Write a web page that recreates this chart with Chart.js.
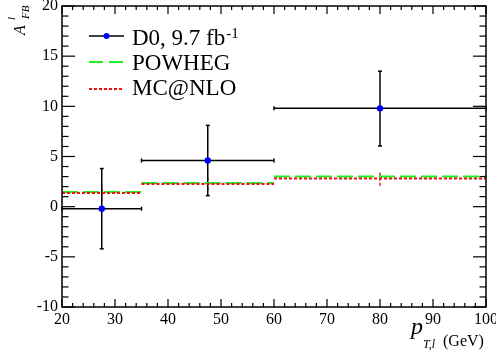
<!doctype html>
<html>
<head>
<meta charset="utf-8">
<script src="https://cdn.jsdelivr.net/npm/chart.js@4.4.1/dist/chart.umd.min.js"></script>
<style>
  body { margin: 0; background: #fff; }
  canvas { display: block; }
</style>
</head>
<body>
<canvas id="c" width="496" height="354"></canvas>
<script>
// bins in pT (GeV)
var binLo = [20, 35, 60];
var binHi = [35, 60, 100];
var binCenter = [27.5, 47.5, 80];

// D0 data
var d0Val = [-0.2, 4.6, 9.8];
var d0ErrUp = [4.0, 3.5, 3.7];
var d0ErrDown = [4.0, 3.5, 3.75];

// predictions
var powhegVal = [1.47, 2.37, 3.0];
var powhegErr = [0.15, 0.15, 0.15];
var mcnloVal = [1.37, 2.27, 2.8];
var mcnloErr = [0.8, 0.63, 0.72];

var xTicks = [20, 30, 40, 50, 60, 70, 80, 90, 100];
var yTicks = [-10, -5, 0, 5, 10, 15, 20];

var SERIF = "'Liberation Serif', 'DejaVu Serif', serif";

function steps(vals) {
    var out = [];
    for (var i = 0; i < vals.length; i++) {
        out.push({x: binLo[i], y: vals[i]});
        out.push({x: binHi[i], y: vals[i]});
        out.push({x: binHi[i], y: null});
    }
    return out;
}

function line(ctx, x1, y1, x2, y2) {
    ctx.beginPath();
    ctx.moveTo(x1, y1);
    ctx.lineTo(x2, y2);
    ctx.stroke();
}

var rootStyle = {
    id: 'rootStyle',
    beforeDatasetsDraw: function(chart) {
        var ctx = chart.ctx, xs = chart.scales.x, ys = chart.scales.y;
        ctx.save();
        // prediction error bars
        ctx.lineWidth = 1.5;
        ctx.strokeStyle = '#22ee22';
        for (var i = 0; i < binCenter.length; i++) {
            var px = xs.getPixelForValue(binCenter[i]);
            line(ctx, px, ys.getPixelForValue(powhegVal[i] - powhegErr[i]), px, ys.getPixelForValue(powhegVal[i] + powhegErr[i]));
        }
        ctx.strokeStyle = '#ee1111';
        ctx.setLineDash([3, 2]);
        for (var i = 0; i < binCenter.length; i++) {
            var px = xs.getPixelForValue(binCenter[i]);
            line(ctx, px, ys.getPixelForValue(mcnloVal[i] - mcnloErr[i]), px, ys.getPixelForValue(mcnloVal[i] + mcnloErr[i]));
        }
        ctx.setLineDash([]);
        // data error bars
        ctx.strokeStyle = '#000';
        ctx.lineWidth = 1.5;
        for (var i = 0; i < binCenter.length; i++) {
            var px = xs.getPixelForValue(binCenter[i]);
            var py = ys.getPixelForValue(d0Val[i]);
            var x1 = xs.getPixelForValue(binLo[i]), x2 = xs.getPixelForValue(binHi[i]);
            var y1 = ys.getPixelForValue(d0Val[i] + d0ErrUp[i]), y2 = ys.getPixelForValue(d0Val[i] - d0ErrDown[i]);
            line(ctx, x1, py, x2, py);
            line(ctx, px, y1, px, y2);
            line(ctx, x1, py - 2, x1, py + 2);
            line(ctx, x2, py - 2, x2, py + 2);
            line(ctx, px - 2, y1, px + 2, y1);
            line(ctx, px - 2, y2, px + 2, y2);
        }
        ctx.restore();
    },
    afterDraw: function(chart) {
        var ctx = chart.ctx, a = chart.chartArea, xs = chart.scales.x, ys = chart.scales.y;
        ctx.save();
        ctx.strokeStyle = '#000';
        ctx.lineWidth = 1.5;
        ctx.strokeRect(a.left, a.top, a.right - a.left, a.bottom - a.top);

        // ticks, inward on all four sides
        ctx.lineWidth = 1.2;
        for (var v = 20; v <= 100; v += 2) {
            var px = xs.getPixelForValue(v);
            var len = (v % 10 === 0) ? 8 : 4;
            line(ctx, px, a.bottom, px, a.bottom - len);
            line(ctx, px, a.top, px, a.top + len);
        }
        for (var v = -10; v <= 20; v += 1) {
            var py = ys.getPixelForValue(v);
            var len = (v % 5 === 0) ? 13 : 6.5;
            line(ctx, a.left, py, a.left + len, py);
            line(ctx, a.right, py, a.right - len, py);
        }

        // legend
        ctx.lineWidth = 1.5;
        ctx.strokeStyle = '#000';
        line(ctx, 89, 36, 124, 36);
        ctx.fillStyle = '#0000ff';
        ctx.beginPath();
        ctx.arc(106.5, 36, 3, 0, Math.PI * 2);
        ctx.fill();
        ctx.lineWidth = 2;
        ctx.strokeStyle = '#22ee22';
        ctx.setLineDash([14, 6]);
        line(ctx, 89, 62, 124, 62);
        ctx.strokeStyle = '#ee1111';
        ctx.setLineDash([3, 2]);
        line(ctx, 89, 89, 124, 89);
        ctx.setLineDash([]);

        ctx.fillStyle = '#000';
        ctx.textBaseline = 'alphabetic';
        ctx.textAlign = 'left';
        ctx.font = '23px ' + SERIF;
        ctx.fillText('D0, 9.7 fb', 132, 45);
        var w = ctx.measureText('D0, 9.7 fb').width;
        ctx.fillText('POWHEG', 132, 70);
        ctx.fillText('MC@NLO', 132, 95);
        ctx.font = '15px ' + SERIF;
        ctx.fillText('-1', 132 + w + 1, 38);

        // x title
        ctx.font = 'italic 24px ' + SERIF;
        ctx.fillText('p', 411, 334);
        ctx.font = 'italic 12px ' + SERIF;
        ctx.fillText('T,l', 423, 348);
        ctx.font = '16px ' + SERIF;
        ctx.fillText('(GeV)', 443, 346);

        // y title (rotated)
        ctx.translate(25, 35);
        ctx.rotate(-Math.PI / 2);
        ctx.font = 'italic 16px ' + SERIF;
        ctx.fillText('A', 0, 0);
        ctx.font = 'italic 11px ' + SERIF;
        ctx.fillText('l', 15, -10);
        ctx.fillText('FB', 16, 4);
        ctx.restore();
    }
};

var chart = new Chart(document.getElementById('c'), {
    type: 'line',
    data: {
        datasets: [
            {
                label: 'D0, 9.7 fb-1',
                data: binCenter.map(function(x, i) { return {x: x, y: d0Val[i]}; }),
                showLine: false,
                pointRadius: 3.2,
                pointBackgroundColor: '#0000ff',
                pointBorderWidth: 0
            },
            {
                label: 'MC@NLO',
                data: steps(mcnloVal),
                borderColor: '#ee1111',
                borderWidth: 2,
                borderDash: [3, 2],
                pointRadius: 0,
                spanGaps: false
            },
            {
                label: 'POWHEG',
                data: steps(powhegVal),
                borderColor: '#22ee22',
                borderWidth: 2,
                borderDash: [16, 5],
                pointRadius: 0,
                spanGaps: false
            }
        ]
    },
    options: {
        responsive: false,
        animation: false,
        devicePixelRatio: 1,
        layout: { padding: { top: 6, right: 10, left: 0, bottom: 0 } },
        plugins: { legend: { display: false }, tooltip: { enabled: false } },
        scales: {
            x: {
                type: 'linear',
                min: 20,
                max: 100,
                afterBuildTicks: function(s) { s.ticks = xTicks.map(function(v) { return {value: v}; }); },
                afterFit: function(s) { s.height = 47; s.paddingLeft = 0; s.paddingRight = 0; },
                grid: { display: false, drawTicks: false },
                border: { display: false },
                ticks: { color: '#000', font: { family: SERIF, size: 16 }, padding: 3, maxRotation: 0, autoSkip: false }
            },
            y: {
                type: 'linear',
                min: -10,
                max: 20,
                afterBuildTicks: function(s) { s.ticks = yTicks.map(function(v) { return {value: v}; }); },
                afterFit: function(s) { s.width = 62; s.paddingTop = 0; s.paddingBottom = 0; },
                grid: { display: false, drawTicks: false },
                border: { display: false },
                ticks: { color: '#000', font: { family: SERIF, size: 16 }, padding: 4 }
            }
        }
    },
    plugins: [rootStyle]
});
</script>
</body>
</html>
